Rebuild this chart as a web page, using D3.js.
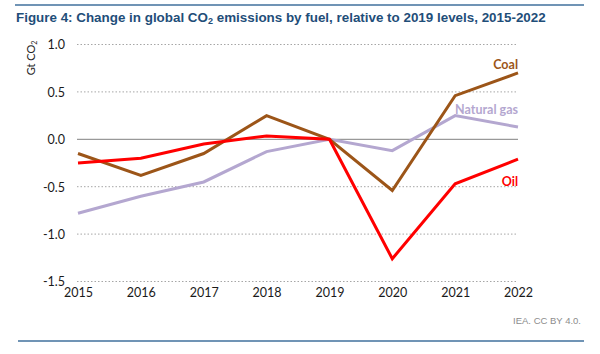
<!DOCTYPE html>
<html>
<head>
<meta charset="utf-8">
<script src="https://cdn.jsdelivr.net/npm/d3@7"></script>
<style>
  body { margin: 0; background: #fff; }
  svg { display: block; }
</style>
</head>
<body>
<div id="chart"></div>
<script>
// data
var years = [2015, 2016, 2017, 2018, 2019, 2020, 2021, 2022];
var coal = [-0.15, -0.38, -0.15, 0.25, 0.0, -0.54, 0.46, 0.70];
var gas = [-0.78, -0.60, -0.45, -0.13, 0.0, -0.12, 0.25, 0.13];
var oil = [-0.25, -0.20, -0.05, 0.035, 0.0, -1.26, -0.47, -0.21];
var yTicks = [1.0, 0.5, 0.0, -0.5, -1.0, -1.5];

var width = 600, height = 354;
var svg = d3.select("#chart").append("svg").attr("width", width).attr("height", height);

// frame lines + title
svg.append("line").attr("x1", 15).attr("x2", 584).attr("y1", 5).attr("y2", 5)
	.attr("stroke", "#41719c").attr("stroke-width", 1.5);
svg.append("line").attr("x1", 18).attr("x2", 584).attr("y1", 341).attr("y2", 341)
	.attr("stroke", "#41719c").attr("stroke-width", 1.5);

var title = svg.append("text").attr("x", 16).attr("y", 22)
	.attr("font-family", "Liberation Sans, Arial, sans-serif").attr("font-weight", "bold")
	.attr("font-size", 13.4).attr("fill", "#1f4e79");
title.append("tspan").text("Figure 4: Change in global CO");
title.append("tspan").attr("font-size", 9).attr("dy", 2).text("2");
title.append("tspan").attr("dy", -2).text(" emissions by fuel, relative to 2019 levels, 2015-2022");

var x = d3.scaleLinear().domain([2015, 2022]).range([78, 518]);
var y = d3.scaleLinear().domain([-1.5, 1.0]).range([281.5, 44.5]);

// gridlines
svg.append("g").selectAll("line").data(yTicks).enter().append("line")
	.attr("x1", 77).attr("x2", 518)
	.attr("y1", function(d) { return y(d); }).attr("y2", function(d) { return y(d); })
	.attr("stroke", function(d) { return d == 0 ? "#808080" : "#a6a6a6"; })
	.attr("stroke-width", 1)
	.attr("stroke-dasharray", function(d) { return d == 0 ? null : "1.5,2"; });

// y axis labels (plain hyphen for minus, like the original)
var fmt = d3.format(".1f");
var yAxis = d3.axisLeft(y).tickValues(yTicks).tickSize(0).tickPadding(0)
	.tickFormat(function(d) { return fmt(d).replace("\u2212", "-"); });
var gy = svg.append("g").attr("transform", "translate(65,0)").call(yAxis);
gy.select(".domain").remove();
gy.selectAll("text").attr("font-family", "Lato, sans-serif").attr("font-size", 12.5)
	.attr("fill", "#1a1a1a").attr("dy", "0.35em");

// x axis labels
var xAxis = d3.axisBottom(x).tickValues(years).tickSize(0).tickPadding(0)
	.tickFormat(d3.format("d"));
var gx = svg.append("g").attr("transform", "translate(0,288)").call(xAxis);
gx.select(".domain").remove();
gx.selectAll("text").attr("font-family", "Lato, sans-serif").attr("font-size", 12.5)
	.attr("fill", "#1a1a1a").attr("dy", "0.71em");

// y axis title
var yt = svg.append("text").attr("transform", "translate(35,58) rotate(-90)")
	.attr("text-anchor", "middle").attr("font-family", "Lato, sans-serif")
	.attr("font-size", 11).attr("fill", "#262626");
yt.append("tspan").text("Gt CO");
yt.append("tspan").attr("font-size", 7).attr("dy", 2).text("2");

// series
var series = [
	{ name: "Natural gas", values: gas, color: "#b4a7d0", labelY: 0.31 },
	{ name: "Coal", values: coal, color: "#9c5518", labelY: 0.79 },
	{ name: "Oil", values: oil, color: "#ff0000", labelY: -0.45 }
];

var line = d3.line()
	.x(function(d, i) { return x(years[i]); })
	.y(function(d) { return y(d); });

svg.append("g").selectAll("path").data(series).enter().append("path")
	.attr("d", function(s) { return line(s.values); })
	.attr("fill", "none")
	.attr("stroke", function(s) { return s.color; })
	.attr("stroke-width", 3)
	.attr("stroke-linejoin", "miter");

svg.append("g").selectAll("text").data(series).enter().append("text")
	.attr("x", 518).attr("y", function(s) { return y(s.labelY); })
	.attr("text-anchor", "end").attr("dy", "0.35em")
	.attr("font-family", "Lato, sans-serif").attr("font-weight", "bold").attr("font-size", 12.5)
	.attr("fill", function(s) { return s.color; })
	.text(function(s) { return s.name; });

// source note
svg.append("text").attr("x", 581).attr("y", 324).attr("text-anchor", "end")
	.attr("font-family", "Liberation Sans, Arial, sans-serif").attr("font-size", 9.5)
	.attr("fill", "#8c8c8c").text("IEA. CC BY 4.0.");
</script>
</body>
</html>
